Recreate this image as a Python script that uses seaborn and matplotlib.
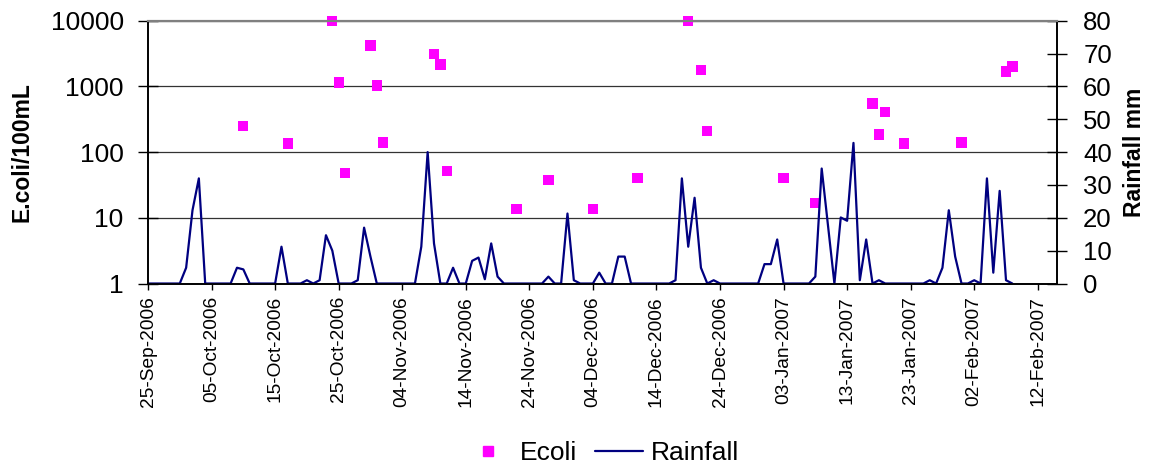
import pandas as pd
import seaborn as sns
import matplotlib.pyplot as plt
import matplotlib.dates as mdates
from matplotlib.lines import Line2D
from matplotlib.ticker import FixedLocator, NullLocator, FuncFormatter

# E. coli samples (per 100 mL)
ecoli_dates = ['2006-10-10', '2006-10-17', '2006-10-24', '2006-10-25', '2006-10-26',
               '2006-10-30', '2006-10-31', '2006-11-01', '2006-11-09', '2006-11-10',
               '2006-11-11', '2006-11-22', '2006-11-27', '2006-12-04', '2006-12-11',
               '2006-12-19', '2006-12-21', '2006-12-22', '2007-01-03', '2007-01-08',
               '2007-01-17', '2007-01-18', '2007-01-19', '2007-01-22', '2007-01-31',
               '2007-02-07', '2007-02-08']
ecoli_values = [250, 135, 10000, 1150, 48,
                4200, 1030, 140, 3100, 2150,
                52, 13.5, 38, 13.5, 40,
                10000, 1760, 210, 40, 17,
                550, 185, 405, 135, 140,
                1680, 2000]

# daily rainfall (mm) from 25-Sep-2006 to 08-Feb-2007
rain_start = '2006-09-25'
rain_mm = [0, 0, 0, 0, 0, 0, 4.8, 22.3, 32, 0,
           0, 0, 0, 0, 4.8, 4.3, 0, 0, 0, 0,
           0, 11.2, 0, 0, 0, 1.0, 0, 1.0, 14.7, 10,
           0, 0, 0, 1, 17, 8.2, 0, 0, 0, 0,
           0, 0, 0, 11.2, 40, 12.2, 0, 0, 4.8, 0,
           0, 6.9, 7.9, 1.3, 12.2, 2.1, 0, 0, 0, 0,
           0, 0, 0, 2.1, 0, 0, 21.3, 1, 0, 0,
           0, 3.3, 0, 0, 8.2, 8.2, 0, 0, 0, 0,
           0, 0, 0, 1, 32, 11.2, 26.1, 4.8, 0, 1,
           0, 0, 0, 0, 0, 0, 0, 5.9, 5.9, 13.4,
           0, 0, 0, 0, 0, 2.1, 35, 17.5, 0, 20.1,
           19.1, 42.8, 1, 13.4, 0, 1, 0, 0, 0, 0,
           0, 0, 0, 1, 0, 4.8, 22.3, 8.2, 0, 0,
           1, 0, 32, 3.3, 28.2, 1, 0]

ecoli_df = pd.DataFrame({'date': pd.to_datetime(ecoli_dates), 'ecoli': ecoli_values})
rain_df = pd.DataFrame({'date': pd.date_range(rain_start, periods=len(rain_mm), freq='D'),
                        'rain': rain_mm})

sns.set_style('white')
plt.rcParams['font.family'] = ['Liberation Sans', 'DejaVu Sans']
plt.rcParams['text.color'] = 'black'
plt.rcParams['axes.labelcolor'] = 'black'
plt.rcParams['xtick.color'] = 'black'
plt.rcParams['ytick.color'] = 'black'

fig, ax = plt.subplots(figsize=(11.5, 4.66), dpi=100)
fig.subplots_adjust(left=0.1287, right=0.919, top=0.9556, bottom=0.3916)
ax2 = ax.twinx()

# Ecoli on log axis
sns.scatterplot(data=ecoli_df, x='date', y='ecoli', ax=ax, marker='s', s=55,
                color='#FF00FF', edgecolor='none', linewidth=0, zorder=3, clip_on=False)
ax.set_yscale('log')
ax.set_ylim(1, 10000)
ax.yaxis.set_major_locator(FixedLocator([1, 10, 100, 1000, 10000]))
ax.yaxis.set_minor_locator(NullLocator())
ax.yaxis.set_major_formatter(FuncFormatter(lambda v, p: f'{v:g}'))
ax.grid(axis='y', color='#333333', lw=0.9)
ax.grid(axis='x', visible=False)

# Rainfall on secondary axis
sns.lineplot(data=rain_df, x='date', y='rain', ax=ax2, color='#000080', lw=1.6)
ax2.set_ylim(0, 80)
ax2.set_yticks(range(0, 81, 10))

# date axis
ax.set_xlim(pd.Timestamp('2006-09-25'), pd.Timestamp('2007-02-15'))
xt = pd.date_range('2006-09-25', '2007-02-12', freq='10D')
ax.set_xticks(xt)
ax.xaxis.set_major_formatter(mdates.DateFormatter('%d-%b-%Y'))
ax.tick_params(axis='x', labelsize=13.8, rotation=90, direction='out', length=4,
               width=1, color='black', labelcolor='black', pad=5, bottom=True)

ax.tick_params(axis='y', labelsize=19, direction='inout', length=15, width=1,
               color='black', labelcolor='black', pad=10, left=True)
ax2.tick_params(axis='y', labelsize=18.5, direction='inout', length=14, width=1,
                color='black', labelcolor='black', pad=12, right=True)

ax.set_xlabel('')
ax.set_ylabel('E.coli/100mL', fontsize=16.5, fontweight='bold', labelpad=12, color='black')
ax2.set_ylabel('Rainfall mm', fontsize=16.5, fontweight='bold', labelpad=8, color='black')

for a in (ax, ax2):
    for side in ('left', 'right', 'bottom'):
        a.spines[side].set_color('black')
        a.spines[side].set_linewidth(1.2)
    a.spines['top'].set_color('#808080')
    a.spines['top'].set_linewidth(1.5)

handles = [Line2D([], [], marker='s', ls='none', color='#FF00FF', markersize=7.5),
           Line2D([], [], color='#000080', lw=1.6)]
fig.legend(handles, ['Ecoli', 'Rainfall'], loc='center', bbox_to_anchor=(0.523, 0.028),
           ncol=2, frameon=False, fontsize=19, handlelength=1.8, handletextpad=0.3,
           columnspacing=0.7, labelcolor='black')

fig.savefig('out.png', dpi=100)
